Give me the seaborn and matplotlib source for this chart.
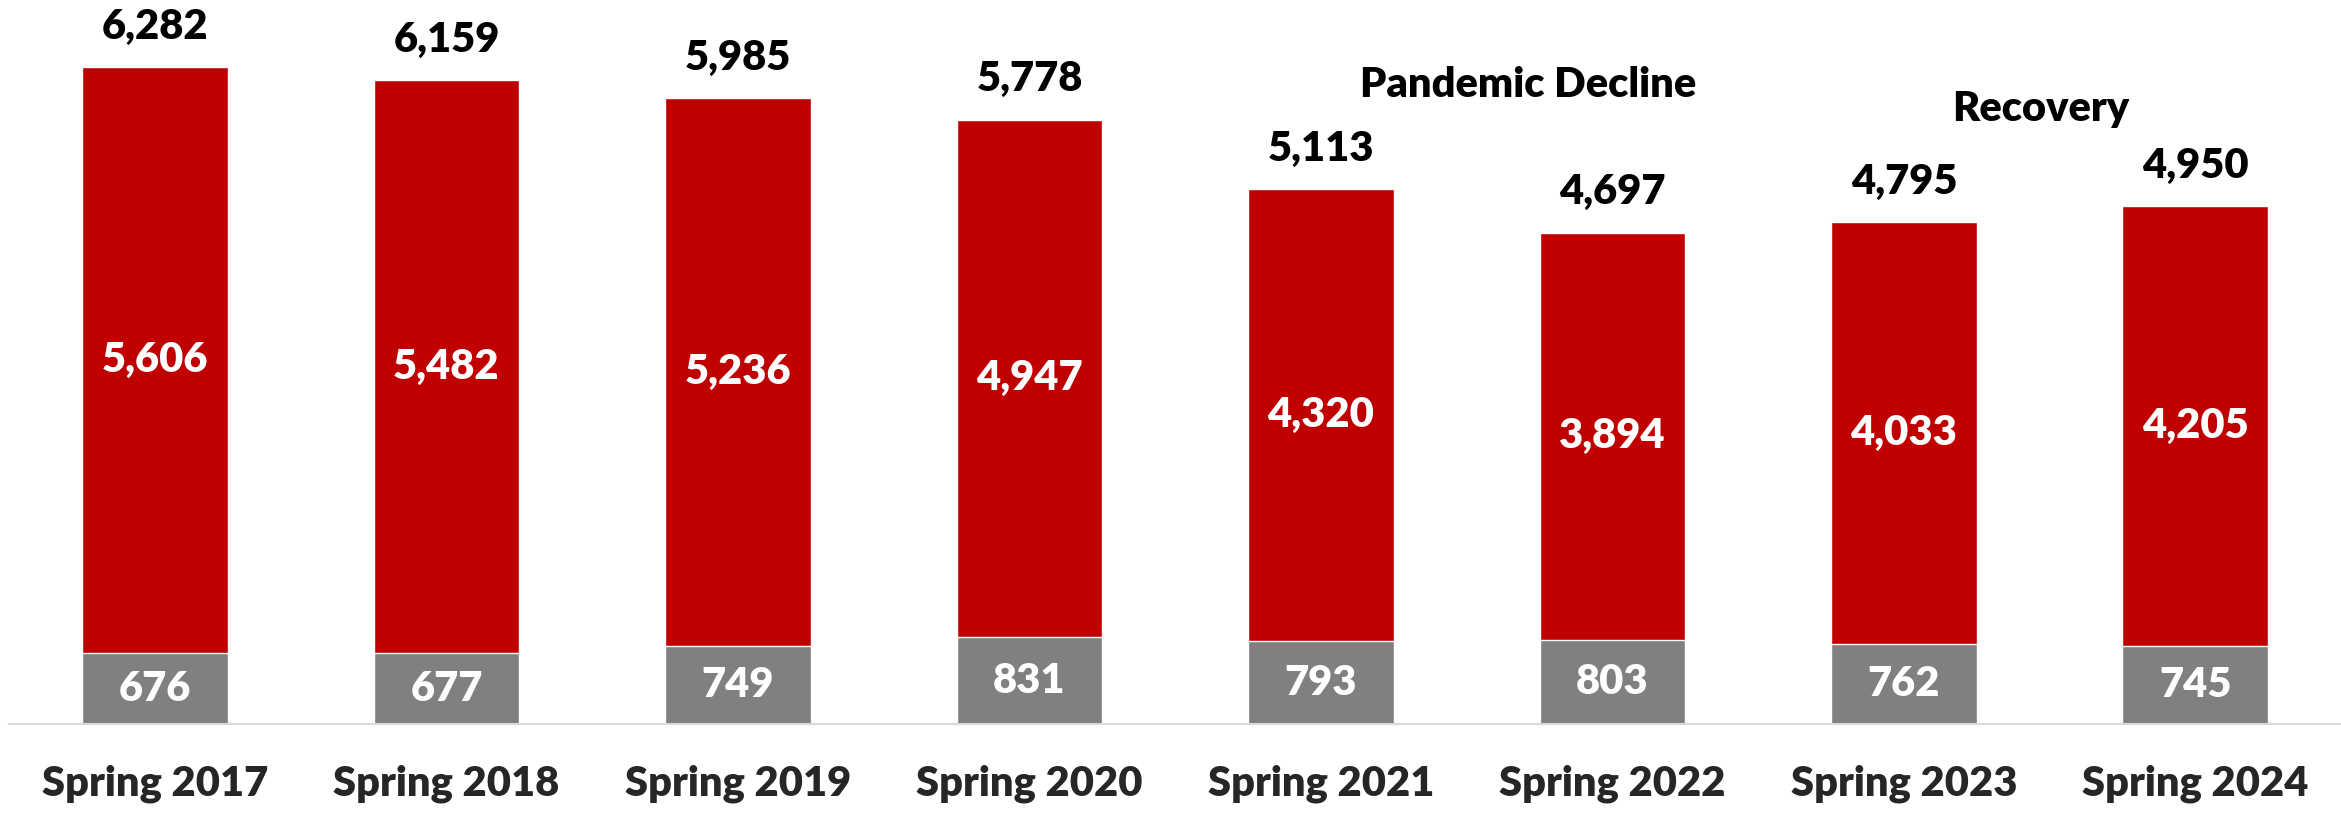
import matplotlib
matplotlib.use("Agg")
import matplotlib.pyplot as plt
import seaborn as sns
import pandas as pd

# Datos
semestres = ["Spring 2017", "Spring 2018", "Spring 2019", "Spring 2020",
             "Spring 2021", "Spring 2022", "Spring 2023", "Spring 2024"]
rojo_vals = [5606, 5482, 5236, 4947, 4320, 3894, 4033, 4205]
gris_vals = [676, 677, 749, 831, 793, 803, 762, 745]
totales = [6282, 6159, 5985, 5778, 5113, 4697, 4795, 4950]

df = pd.DataFrame({"semestre": semestres, "rojo": rojo_vals,
                   "gris": gris_vals, "total": totales})

sns.set_theme(style="white")
plt.rcParams["font.family"] = ["Lato", "DejaVu Sans"]

peso = "heavy"
fs = 30

fig = plt.figure(figsize=(23.41, 8.13), dpi=100)
ax = fig.add_axes([0.004, 89 / 813, 0.996, 724 / 813])

# barras apiladas: primero el total (rojo), luego la parte gris encima
sns.barplot(data=df, x="semestre", y="total", color="#C00000",
            saturation=1, width=0.5, ax=ax)
sns.barplot(data=df, x="semestre", y="gris", color="#808080",
            saturation=1, width=0.5, ax=ax)

for i, row in df.iterrows():
    # total arriba
    ax.annotate(f"{row['total']:,}", (i, row["total"]), xytext=(0, 29),
                textcoords="offset points", ha="center", va="center",
                fontsize=fs, fontweight=peso, color="black")
    # valor rojo en medio del segmento
    ax.text(i, row["gris"] + row["rojo"] / 2, f"{row['rojo']:,}",
            ha="center", va="center", fontsize=fs, fontweight=peso, color="white")
    # valor gris
    ax.text(i, row["gris"] / 2, f"{row['gris']:,}",
            ha="center", va="center", fontsize=fs, fontweight=peso, color="white")

ax.text(4.71, 6110, "Pandemic Decline", ha="center", va="center",
        fontsize=fs, fontweight=peso, color="black")
ax.text(6.47, 5880, "Recovery", ha="center", va="center",
        fontsize=fs, fontweight=peso, color="black")

ax.set_xlim(-0.5, 7.5)
ax.set_ylim(0, 6922)
ax.set_xlabel("")
ax.set_ylabel("")
ax.set_yticks([])
ax.tick_params(axis="x", length=0, pad=29, labelsize=fs)
for lab in ax.get_xticklabels():
    lab.set_fontweight(peso)

sns.despine(ax=ax, left=True)
ax.spines["bottom"].set_color("#D9D9D9")
ax.spines["bottom"].set_linewidth(1.5)

fig.savefig("out.png", dpi=100)
